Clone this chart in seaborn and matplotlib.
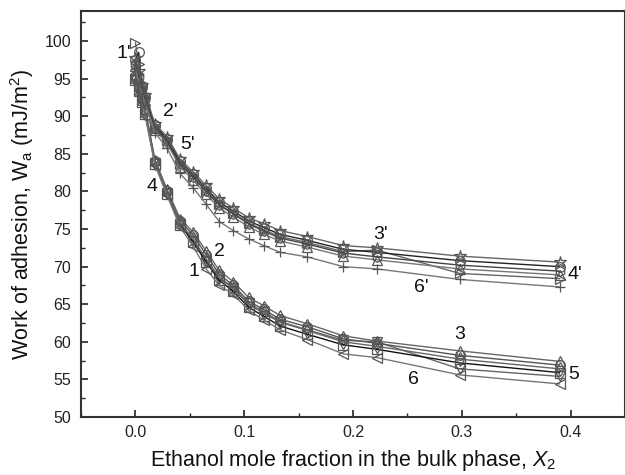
import numpy as np
import pandas as pd
import matplotlib
matplotlib.use("Agg")
import matplotlib.pyplot as plt
import seaborn as sns

# ---- data ----
x_frac = [0.0, 0.003, 0.006, 0.009, 0.018, 0.029, 0.041, 0.053, 0.065, 0.077,
          0.090, 0.104, 0.118, 0.133, 0.158, 0.191, 0.222, 0.298, 0.390]

s1 = [94.9, 93.4, 92.0, 90.4, 83.8, 79.8, 75.7, 73.4, 70.8, 68.6, 67.2, 65.1, 64.0, 62.7, 61.6, 60.2, 60.0, 56.4, 55.4]
s2 = [95.3, 93.8, 92.4, 90.8, 84.0, 80.1, 76.1, 74.2, 71.6, 69.0, 67.5, 65.4, 64.3, 63.0, 62.0, 60.4, 59.8, 58.2, 56.9]
s3 = [95.6, 94.0, 92.6, 91.0, 84.2, 80.3, 76.4, 74.6, 72.1, 69.5, 68.0, 65.9, 64.8, 63.5, 62.4, 60.8, 60.1, 58.8, 57.4]
s4 = [94.8, 93.3, 91.9, 90.3, 83.7, 79.7, 75.6, 73.3, 70.6, 68.2, 66.7, 64.6, 63.4, 62.1, 61.0, 59.6, 59.0, 57.2, 55.9]
s5 = [95.0, 93.5, 92.1, 90.5, 83.8, 79.9, 75.8, 73.7, 71.0, 68.6, 67.0, 65.0, 63.8, 62.6, 61.5, 60.0, 59.4, 57.7, 56.4]
s6 = [94.5, 93.0, 91.6, 90.0, 83.5, 79.5, 75.3, 72.7, 69.7, 67.5, 66.3, 64.2, 62.9, 61.6, 60.3, 58.4, 57.9, 55.6, 54.4]

p1 = [99.8, 97.0, 93.8, 92.4, 88.6, 86.8, 83.7, 82.0, 80.1, 78.3, 77.1, 75.8, 74.9, 74.0, 73.2, 72.0, 72.2, 69.1, 68.4]
p2 = [97.5, 98.5, 94.0, 92.6, 88.8, 87.0, 84.0, 82.3, 80.4, 78.6, 77.4, 76.1, 75.2, 74.3, 73.5, 72.3, 71.9, 70.8, 70.0]
p3 = [97.8, 96.0, 94.2, 92.8, 89.0, 87.3, 84.3, 82.6, 80.8, 79.0, 77.8, 76.5, 75.7, 74.8, 74.0, 72.8, 72.5, 71.4, 70.6]
p4 = [96.7, 95.1, 93.4, 92.0, 88.2, 86.4, 83.3, 81.5, 79.6, 77.8, 76.6, 75.3, 74.3, 73.4, 72.6, 71.4, 70.9, 69.7, 68.9]
p5 = [97.0, 95.4, 93.7, 92.3, 88.5, 86.7, 83.6, 81.9, 80.0, 78.2, 77.0, 75.7, 74.7, 73.8, 73.0, 71.8, 71.3, 70.2, 69.4]
p6 = [96.3, 94.6, 93.0, 91.6, 87.8, 85.8, 82.4, 80.5, 78.3, 76.0, 74.8, 73.7, 72.8, 71.9, 71.3, 70.0, 69.7, 68.3, 67.3]

series_names = ["1", "2", "3", "4", "5", "6", "1'", "2'", "3'", "4'", "5'", "6'"]
series_vals = [s1, s2, s3, s4, s5, s6, p1, p2, p3, p4, p5, p6]
series_markers = ["v", "o", "^", "s", "d", "<", ">", "o", "*", "^", "h", "+"]
series_colors = ["#666666", "#555555", "#666666", "#111111", "#666666", "#777777",
                 "#666666", "#222222", "#666666", "#777777", "#444444", "#777777"]

# label positions for series annotations (text placement)
label_text = ["1'", "2'", "5'", "4", "1", "2", "3'", "6'", "4'", "3", "6", "5"]
label_x = [-0.011, 0.032, 0.048, 0.0156, 0.054, 0.077, 0.225, 0.263, 0.404, 0.298, 0.256, 0.403]
label_y = [98.4, 90.6, 86.3, 80.7, 69.3, 72.0, 74.3, 67.2, 69.0, 61.0, 55.0, 55.6]

xticks = [0.0, 0.1, 0.2, 0.3, 0.4]
yticks = [50, 55, 60, 65, 70, 75, 80, 85, 90, 95, 100]

# ---- style ----
sns.set_style("ticks")
plt.rcParams["font.family"] = ["Liberation Sans", "DejaVu Sans"]
plt.rcParams["mathtext.fontset"] = "custom"
plt.rcParams["mathtext.rm"] = "Liberation Sans"
plt.rcParams["mathtext.it"] = "Liberation Sans:italic"

fig = plt.figure(figsize=(6.25, 4.75), dpi=100)
ax = fig.add_axes([81 / 625, 58 / 475, 1 - 81 / 625, (417 - 11) / 475])

for name, vals, m, c in zip(series_names, series_vals, series_markers, series_colors):
    df = pd.DataFrame({"x": x_frac, "y": vals})
    ms = 9 if m == "*" else 7
    sns.lineplot(data=df, x="x", y="y", ax=ax, sort=False, color=c, lw=1.0,
                 marker=m, markersize=ms, markerfacecolor="none",
                 markeredgecolor="#555555", markeredgewidth=0.9, legend=False)

for t, lx, ly in zip(label_text, label_x, label_y):
    ax.text(lx, ly, t, fontsize=14, ha="center", va="center", color="#111111")

ax.set_xlim(-0.05, 0.45)
ax.set_ylim(50, 104)
ax.set_xticks(xticks)
ax.set_xticklabels([f"{v:.1f}" for v in xticks])
ax.set_yticks(yticks)
ax.xaxis.set_minor_locator(matplotlib.ticker.MultipleLocator(0.05))
ax.yaxis.set_minor_locator(matplotlib.ticker.MultipleLocator(2.5))
ax.tick_params(which="major", direction="in", length=5, width=1.2, labelsize=11.5,
               colors="#222222", top=False, right=False)
ax.tick_params(axis="x", which="major", pad=6)
ax.tick_params(axis="y", which="major", pad=7)
ax.tick_params(which="minor", direction="in", length=3, width=1.0, top=False, right=False)
for sp in ax.spines.values():
    sp.set_visible(True)
    sp.set_color("#333333")
    sp.set_linewidth(1.5)

ax.set_xlabel("Ethanol mole fraction in the bulk phase, $X_2$", fontsize=15.5, color="#111111")
ax.set_ylabel("Work of adhesion, W$_\\mathregular{a}$ (mJ/m$^\\mathregular{2}$)", fontsize=15.5, color="#111111")
ax.xaxis.set_label_coords(0.5, -0.077)
ax.yaxis.set_label_coords(-0.082, 0.5)

fig.savefig("out.png", dpi=100)
